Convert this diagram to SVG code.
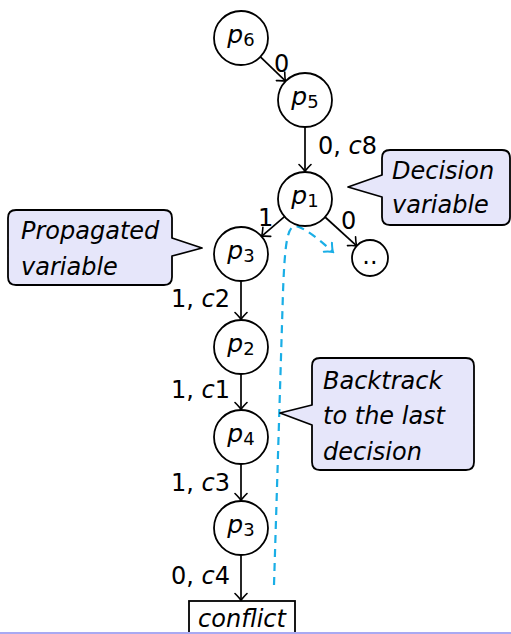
<svg xmlns="http://www.w3.org/2000/svg" width="511" height="634" viewBox="0 0 511 634">
<defs>
<style>
text{font-family:"DejaVu Sans","Liberation Sans",sans-serif;fill:#000}
.node{fill:#fff;stroke:#000;stroke-width:1.8}
.edge{stroke:#000;stroke-width:1.7;fill:none;marker-end:url(#arr)}
.lbl{font-size:24px}
.nl{font-size:25px}
.sub{font-size:18px;font-style:normal}
.it{font-style:italic}
.call{fill:#e6e6fa;stroke:#000;stroke-width:1.8;stroke-linejoin:round}
.ct{font-size:24px;font-style:italic}
.bt{stroke:#1aaee6;stroke-width:2.2;fill:none;stroke-dasharray:8 6}
</style>
<marker id="arr" viewBox="-9 -7 11 14" markerWidth="11" markerHeight="14" refX="0" refY="0" orient="auto" markerUnits="userSpaceOnUse">
<path d="M-7,-6 Q-2,-1 0,0 Q-2,1 -7,6" fill="none" stroke="#000" stroke-width="1.6" stroke-linecap="round"/>
</marker>
<marker id="barr" viewBox="-9 -7 11 14" markerWidth="11" markerHeight="14" refX="0" refY="0" orient="auto" markerUnits="userSpaceOnUse">
<path d="M-7,-6 Q-2,-1 0,0 Q-2,1 -7,6" fill="none" stroke="#1aaee6" stroke-width="2" stroke-linecap="round"/>
</marker>
</defs>
<rect width="511" height="634" fill="#fff"/>
<g id="edges">
<path class="edge" d="M260.4 56.8 L285.6 81.2"/>
<text class="lbl" x="274" y="72">0</text>
<path class="edge" d="M305 127 L305 171.5"/>
<text class="lbl" x="318" y="154">0, <tspan class="it">c</tspan>8</text>
<path class="edge" d="M284.5 216.6 L261.5 236.4"/>
<text class="lbl" x="258" y="226">1</text>
<path class="edge" d="M325 217 L356.7 245.9"/>
<text class="lbl" x="341" y="229">0</text>
<path class="edge" d="M241 281 L241 319.5"/>
<text class="lbl" x="230" y="307" text-anchor="end">1, <tspan class="it">c</tspan>2</text>
<path class="edge" d="M241 374 L241 409.5"/>
<text class="lbl" x="230" y="398" text-anchor="end">1, <tspan class="it">c</tspan>1</text>
<path class="edge" d="M241 464 L241 500.5"/>
<text class="lbl" x="230" y="491" text-anchor="end">1, <tspan class="it">c</tspan>3</text>
<path class="edge" d="M241 555 L241 600.5"/>
<text class="lbl" x="230" y="584" text-anchor="end">0, <tspan class="it">c</tspan>4</text>
<path class="bt" d="M274 585 L283 292 C285 238 288 226 296 226 C305 228 320 240 333 252" marker-end="url(#barr)"/>
</g>
<g id="p6"><circle class="node" cx="241" cy="38" r="27"/><text class="nl" x="241" y="43" text-anchor="middle"><tspan class="it">p</tspan><tspan class="sub" dy="3">6</tspan></text></g>
<g id="p5"><circle class="node" cx="305" cy="100" r="27"/><text class="nl" x="305" y="105" text-anchor="middle"><tspan class="it">p</tspan><tspan class="sub" dy="3">5</tspan></text></g>
<g id="p1"><circle class="node" cx="305" cy="199" r="27"/><text class="nl" x="305" y="204" text-anchor="middle"><tspan class="it">p</tspan><tspan class="sub" dy="3">1</tspan></text></g>
<g id="dots"><circle class="node" cx="370" cy="258" r="18"/><text class="lbl" x="370" y="264" text-anchor="middle">..</text></g>
<g id="p3a"><circle class="node" cx="241" cy="254" r="27"/><text class="nl" x="241" y="259" text-anchor="middle"><tspan class="it">p</tspan><tspan class="sub" dy="3">3</tspan></text></g>
<g id="p2"><circle class="node" cx="241" cy="347" r="27"/><text class="nl" x="241" y="352" text-anchor="middle"><tspan class="it">p</tspan><tspan class="sub" dy="3">2</tspan></text></g>
<g id="p4"><circle class="node" cx="241" cy="437" r="27"/><text class="nl" x="241" y="442" text-anchor="middle"><tspan class="it">p</tspan><tspan class="sub" dy="3">4</tspan></text></g>
<g id="p3b"><circle class="node" cx="241" cy="528" r="27"/><text class="nl" x="241" y="533" text-anchor="middle"><tspan class="it">p</tspan><tspan class="sub" dy="3">3</tspan></text></g>
<g id="conflict"><rect x="189" y="601" width="106" height="45" fill="#fff" stroke="#000" stroke-width="1.8"/><text class="lbl it" x="242" y="627" text-anchor="middle">conflict</text></g>
<g id="decision">
<path class="call" d="M390 150 H502 Q510 150 510 158 V217 Q510 225 502 225 H390 Q382 225 382 217 V197 L348 187 L382 175 V158 Q382 150 390 150 Z"/>
<text class="ct" x="392" y="179">Decision</text>
<text class="ct" x="392" y="213">variable</text>
</g>
<g id="propagated">
<path class="call" d="M16 210 H164 Q172 210 172 218 V238 L202 248 L172 256 V277 Q172 285 164 285 H16 Q8 285 8 277 V218 Q8 210 16 210 Z"/>
<text class="ct" x="21" y="239">Propagated</text>
<text class="ct" x="21" y="275">variable</text>
</g>
<g id="backtrack">
<path class="call" d="M320 358 H466 Q474 358 474 366 V462 Q474 470 466 470 H320 Q312 470 312 462 V425 L280 413 L312 405 V366 Q312 358 320 358 Z"/>
<text class="ct" x="323" y="389">Backtrack</text>
<text class="ct" x="323" y="424">to the last</text>
<text class="ct" x="323" y="460">decision</text>
</g>
<line x1="0" y1="633" x2="511" y2="633" stroke="#a9a9f2" stroke-width="2"/>
</svg>
